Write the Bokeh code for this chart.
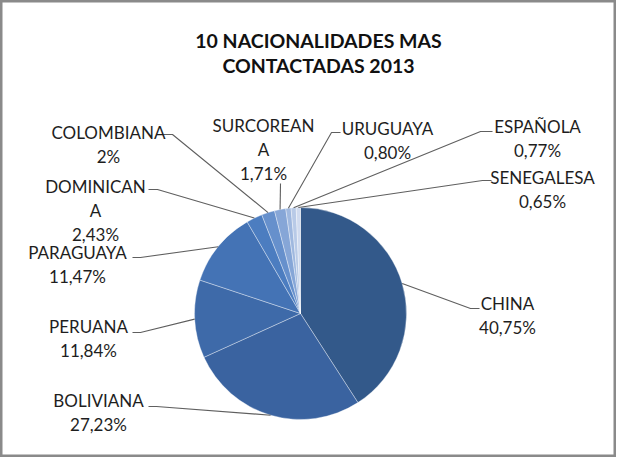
import math
from bokeh.plotting import figure
from bokeh.models import Range1d, ColumnDataSource
from bokeh.core.properties import value
from bokeh.embed import file_html
from bokeh.resources import INLINE

# ---------------- data ----------------
title_lines = ["10 NACIONALIDADES MAS", "CONTACTADAS 2013"]
nationalities = ["CHINA", "BOLIVIANA", "PERUANA", "PARAGUAYA", "DOMINICANA",
                 "COLOMBIANA", "SURCOREANA", "URUGUAYA", "ESPAÑOLA", "SENEGALESA"]
percentages = [40.75, 27.23, 11.84, 11.47, 2.43, 2.00, 1.71, 0.80, 0.77, 0.65]
slice_colors = ["#33598a", "#3a63a0", "#3e6aa9", "#4473b5", "#4c7dc0",
                "#6690cc", "#86a6d7", "#9fb8df", "#b8cae7", "#d0dbef"]

# ---------------- layout (pixel positions in the picture) ----------------
W, H = 616, 457
CX, CY, R = 300, 313, 106
LINE_GAP = 24
# label: (center x, first line y, leader end x, leader end y, elbow x)
label_layout = {
    "CHINA":      (507, 303, 479, 308, 470),
    "BOLIVIANA":  (98, 400, 148, 406, 156),
    "PERUANA":    (88, 326, 132, 332, 140),
    "PARAGUAYA":  (77, 252, 132, 257, 140),
    "DOMINICANA": (95, 186, 148, 189, 157),
    "COLOMBIANA": (108, 132, 161, 134, 172),
    "SURCOREANA": (263, 125, 280, 183, 280),
    "URUGUAYA":   (387, 128, 340, 132, 331),
    "ESPAÑOLA":   (537, 126, 492, 131, 480),
    "SENEGALESA": (542, 177, 491, 180, 482),
}
wrap_at = {"DOMINICANA": 9, "SURCOREANA": 9}


def fmt_pct(v):
    if abs(v - round(v)) < 1e-9:
        return f"{int(round(v))}%"
    return f"{v:.2f}".replace(".", ",") + "%"


p = figure(width=W, height=H, output_backend="svg", toolbar_location=None,
           x_range=Range1d(0, W), y_range=Range1d(-H, 0),
           min_border=0)
p.axis.visible = False
p.grid.visible = False
p.background_fill_color = "white"
p.border_fill_color = "white"
p.outline_line_color = "#8a8a8a"
p.outline_line_width = 4

# ---------------- pie ----------------
total = sum(percentages)
starts, ends, mids = [], [], []
cum = 0.0
for v in percentages:
    a0 = math.pi / 2 - 2 * math.pi * (cum + v) / total
    a1 = math.pi / 2 - 2 * math.pi * cum / total
    starts.append(a0)
    ends.append(a1)
    mids.append((a0 + a1) / 2)
    cum += v

src = ColumnDataSource(dict(start=starts, end=ends, color=slice_colors,
                            name=nationalities, pct=percentages))
p.wedge(x=CX, y=-CY, radius=R, start_angle="start", end_angle="end",
        fill_color="color", line_color="white", line_alpha=0.45,
        line_width=0.8, source=src)

# ---------------- leader lines and labels ----------------
lx, ly = [], []
tx, ty, tt = [], [], []
for name, v, m in zip(nationalities, percentages, mids):
    cx_lab, y_lab, ex, ey, elx = label_layout[name]
    sx = CX + R * math.cos(m)
    sy = -CY + R * math.sin(m)
    lx.append([sx, elx, ex])
    ly.append([sy, -ey, -ey])
    if name in wrap_at:
        n = wrap_at[name]
        lines = [name[i:i + n] for i in range(0, len(name), n)]
    else:
        lines = [name]
    lines.append(fmt_pct(v))
    for i, s in enumerate(lines):
        tx.append(cx_lab)
        ty.append(-(y_lab + i * LINE_GAP))
        tt.append(s)

p.multi_line(xs=lx, ys=ly, line_color="#5f5f5f", line_width=1.1)
p.text(x=tx, y=ty, text=tt, text_font=value("Lato"), text_font_size="17px",
       text_align="center", text_baseline="middle", text_color="#1e1e1e")

# ---------------- title ----------------
p.text(x=[318, 318], y=[-40, -65], text=title_lines, text_font=value("Lato"),
       text_font_size="19.5px", text_font_style="bold", text_align="center",
       text_baseline="middle", text_color="#111111")

open("out.html", "w").write(file_html(p, INLINE))
